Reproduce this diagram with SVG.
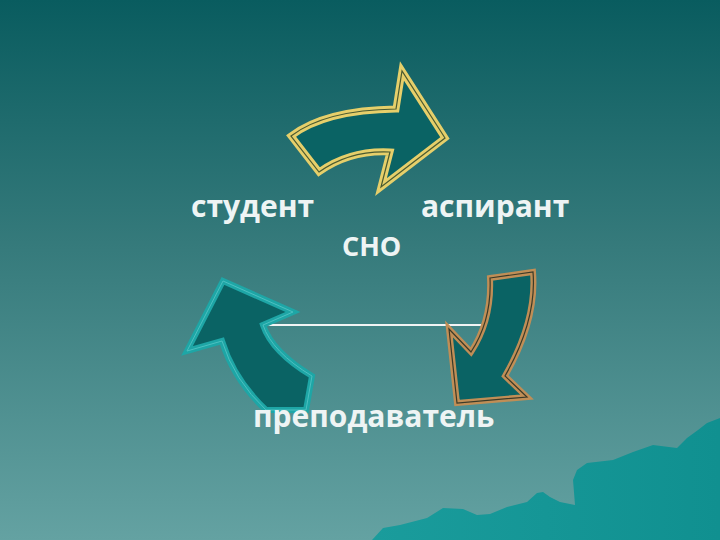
<svg xmlns="http://www.w3.org/2000/svg" width="720" height="540" viewBox="0 0 720 540">
<defs>
<linearGradient id="bg" x1="0" y1="0" x2="0" y2="1">
<stop offset="0" stop-color="#095c5f"/>
<stop offset="0.45" stop-color="#357a7b"/>
<stop offset="1" stop-color="#64a2a2"/>
</linearGradient>
<linearGradient id="mt" x1="0" y1="0" x2="1" y2="0">
<stop offset="0" stop-color="#1a9c9c"/>
<stop offset="1" stop-color="#109090"/>
</linearGradient>
<style>
.lbl{font-family:"Open Sans","Liberation Sans",sans-serif;font-weight:700;font-size:30px;fill:#eef4f4}
.fill{fill:#0a6364}
</style>
</defs>
<rect width="720" height="540" fill="url(#bg)"/>
<path d="M372,540 L383,528 L400,525 L427,518 L443,508 L463,509 L477,515 L490,514 L507,507 L527,502 L537,493 L543,492 L550,497 L560,502 L575,505 L573,480 L577,470 L587,463 L613,460 L633,452 L653,445 L677,448 L687,438 L698,430 L707,423 L720,418 L720,540 Z" fill="url(#mt)"/>
<g id="connectors">
<line x1="264" y1="325" x2="489" y2="325" stroke="#f2f4f4" stroke-width="2"/>
</g>
<g id="arrow-top">
<path d="M291,136 Q325,110 396,109 L402,71 L445,138 L381,187 L390,152 Q350,150 319,172 Z" class="fill" stroke="#e6cf6a" stroke-width="7" stroke-linejoin="miter"/>
<path d="M291,136 Q325,110 396,109 L402,71 L445,138 L381,187 L390,152 Q350,150 319,172 Z" fill="none" stroke="#4a5a30" stroke-width="1.2"/>
</g>
<g id="arrow-right">
<path d="M490,278 L533,272 Q537,320 505,376 L527,397 L457,403 L449,329 L471,352 Q492,320 490,278 Z" class="fill" stroke="#c08e56" stroke-width="6"/>
<path d="M490,278 L533,272 Q537,320 505,376 L527,397 L457,403 L449,329 L471,352 Q492,320 490,278 Z" fill="none" stroke="#3a3a28" stroke-width="1.2"/>
</g>
<g id="arrow-left">
<path d="M223,281 L293,312 L263,325 Q272,352 312,376 L306,410 L266,410 Q234,380 222,341 L187,351 Z" class="fill" stroke="#1ea6a6" stroke-width="6"/>
<path d="M223,281 L293,312 L263,325 Q272,352 312,376 L306,410 L266,410 Q234,380 222,341 L187,351 Z" fill="none" stroke="#4cc0c0" stroke-width="1"/>
</g>
<g id="node-student"><text class="lbl" x="191" y="217">студент</text></g>
<g id="node-aspirant"><text class="lbl" x="421" y="217">аспирант</text></g>
<g id="node-sno"><text class="lbl" x="342" y="256" style="font-size:27px">СНО</text></g>
<g id="node-teacher"><text class="lbl" x="253" y="427">преподаватель</text></g>
</svg>
